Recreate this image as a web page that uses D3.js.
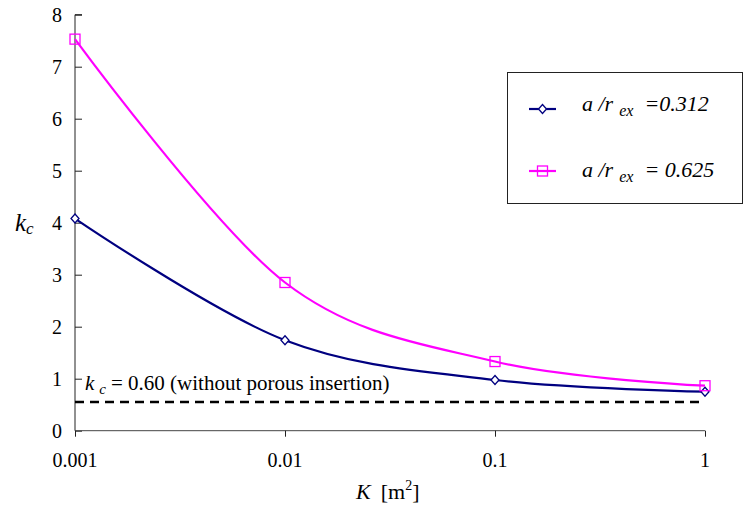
<!DOCTYPE html>
<html>
<head>
  <meta charset="UTF-8">
  <title>kc vs K</title>
  <style>
    body { margin: 0; background: #fff; }
  </style>
</head>
<body>
<svg></svg>
<script src="https://d3js.org/d3.v7.min.js"></script>
<script>

let width = 744, height = 507;
let serif = "'Liberation Serif', 'Times New Roman', serif";

// data
let permeability = [0.001, 0.01, 0.1, 1];
let kcSmall = [4.08, 1.74, 0.975, 0.75];   // a/r_ex = 0.312
let kcLarge = [7.53, 2.85, 1.33, 0.865];   // a/r_ex = 0.625
let kcNoInsert = 0.55;
let yTicks = [0, 1, 2, 3, 4, 5, 6, 7, 8];
let xTicks = [0.001, 0.01, 0.1, 1];
let xTickLabels = ["0.001", "0.01", "0.1", "1"];
let legendLabels = ["=0.312", "= 0.625"];

let svg = d3.select("svg")
    .attr("width", width)
    .attr("height", height)
    .attr("font-family", serif);

let x = d3.scaleLog().domain([0.001, 1]).range([75, 705]);
let y = d3.scaleLinear().domain([0, 8]).range([430.7, 14.7]);

// y axis: ticks point inward
let yAxis = svg.append("g")
    .attr("transform", "translate(75,0)")
    .call(d3.axisRight(y).tickValues(yTicks).tickSize(7).tickFormat(""));
yAxis.select(".domain").attr("d", "M0," + y(0) + "V" + y(8) + "h7").attr("stroke", "#222");
yAxis.selectAll("line").attr("stroke", "#222");

svg.append("g").selectAll("text")
    .data(yTicks)
    .enter().append("text")
    .attr("x", 62)
    .attr("y", d => y(d) + 7)
    .attr("text-anchor", "end")
    .style("font-family", serif)
    .style("font-size", "20px")
    .text(d => d);

// x axis
let xAxis = svg.append("g")
    .attr("transform", "translate(0," + y(0) + ")")
    .call(d3.axisBottom(x).tickValues(xTicks).tickSize(6).tickFormat(""));
xAxis.select(".domain").attr("d", "M" + x(0.001) + ",0H" + x(1)).attr("stroke", "#444");
xAxis.selectAll("line").attr("stroke", "#222");

svg.append("g").selectAll("text")
    .data(xTicks)
    .enter().append("text")
    .attr("x", d => x(d))
    .attr("y", 467)
    .attr("text-anchor", "middle")
    .style("font-family", serif)
    .style("font-size", "20px")
    .text((d, i) => xTickLabels[i]);

// axis titles
let xt = svg.append("text")
    .attr("x", 356)
    .attr("y", 499)
    .style("font-family", serif)
    .style("font-size", "22px");
xt.append("tspan").style("font-style", "italic").text("K");
xt.append("tspan").attr("dx", 10).text("[m");
xt.append("tspan").attr("dy", -9).style("font-size", "14px").text("2");
xt.append("tspan").attr("dy", 9).text("]");

let yt = svg.append("text")
    .attr("x", 15)
    .attr("y", 231)
    .style("font-family", serif)
    .style("font-size", "25px")
    .style("font-style", "italic");
yt.append("tspan").text("k");
yt.append("tspan").attr("dy", 3).style("font-size", "17px").text("c");

// reference line
svg.append("line")
    .attr("x1", x(0.001))
    .attr("x2", x(1))
    .attr("y1", y(kcNoInsert))
    .attr("y2", y(kcNoInsert))
    .attr("stroke", "#000")
    .attr("stroke-width", 2.5)
    .attr("stroke-dasharray", "9,6");

let note = svg.append("text")
    .attr("x", 85)
    .attr("y", 390)
    .style("font-family", serif)
    .style("font-size", "21px");
note.append("tspan").style("font-style", "italic").text("k");
note.append("tspan").attr("dy", 4).attr("dx", 5).style("font-style", "italic").style("font-size", "15px").text("c");
note.append("tspan").attr("dy", -4).attr("dx", 5).text("= 0.60 (without porous insertion)");

// series
let line = d3.line()
    .x((d, i) => x(permeability[i]))
    .y(d => y(d))
    .curve(d3.curveCatmullRom.alpha(0));

let series = [
    { values: kcSmall, color: "#000080", shape: "diamond" },
    { values: kcLarge, color: "#ff00ff", shape: "square" }
];

function drawMarker(g, shape, color, cx, cy) {
    if (shape === "diamond") {
        g.append("path")
            .attr("d", "M" + cx + "," + (cy - 4.5) + "L" + (cx + 4) + "," + cy + "L" + cx + "," + (cy + 4.5) + "L" + (cx - 4) + "," + cy + "Z")
            .attr("fill", "#fff")
            .attr("stroke", color)
            .attr("stroke-width", 1.3);
    } else {
        g.append("rect")
            .attr("x", cx - 5).attr("y", cy - 5)
            .attr("width", 10).attr("height", 10)
            .attr("fill", "none")
            .attr("stroke", color)
            .attr("stroke-width", 1.3);
    }
}

series.forEach(s => {
    svg.append("path")
        .datum(s.values)
        .attr("fill", "none")
        .attr("stroke", s.color)
        .attr("stroke-width", 2.2)
        .attr("d", line);
    let g = svg.append("g");
    s.values.forEach((v, i) => drawMarker(g, s.shape, s.color, x(permeability[i]), y(v)));
});

// legend
svg.append("rect")
    .attr("x", 507.5)
    .attr("y", 72.5)
    .attr("width", 235)
    .attr("height", 131)
    .attr("fill", "#fff")
    .attr("stroke", "#222")
    .attr("stroke-width", 1);

series.forEach((s, i) => {
    let ly = 109 + i * 62;
    svg.append("line")
        .attr("x1", 529).attr("x2", 556)
        .attr("y1", ly).attr("y2", ly)
        .attr("stroke", s.color)
        .attr("stroke-width", 2.2);
    let lg = svg.append("g");
    drawMarker(lg, s.shape, s.color, 542.5, ly);
    let t = svg.append("text")
        .attr("x", 582)
        .attr("y", ly + 2 + i * 4)
        .style("font-family", serif)
        .style("font-size", "22px")
        .style("font-style", "italic");
    t.append("tspan").text("a /r");
    t.append("tspan").attr("dx", 6).attr("dy", 5).style("font-size", "16px").text("ex");
    t.append("tspan").attr("dx", 11).attr("dy", -5).text(legendLabels[i]);
});

</script>
</body>
</html>
